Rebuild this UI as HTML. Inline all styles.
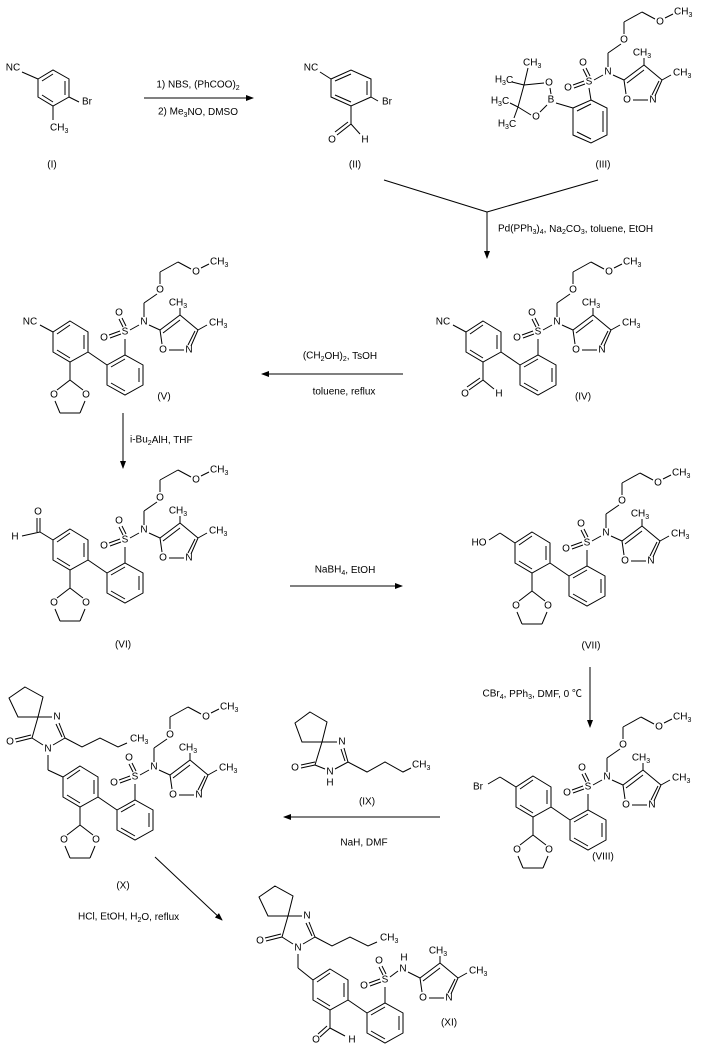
<!DOCTYPE html>
<html><head><meta charset="utf-8"><style>
html,body{margin:0;padding:0;background:#fff;}
svg{display:block;}
text{font-family:"Liberation Sans","Noto Sans CJK SC",sans-serif;font-size:10px;fill:#000;dominant-baseline:central;}
.m{text-anchor:middle;}
.e{text-anchor:end;}
line,polygon,polyline{stroke:#000;stroke-width:1;fill:none;}
</style></head><body>
<svg width="706" height="1051" viewBox="0 0 706 1051" xmlns="http://www.w3.org/2000/svg">
<defs><marker id="ah" markerWidth="8" markerHeight="6" refX="7" refY="3" orient="auto" markerUnits="userSpaceOnUse"><polygon points="0,0 8,3 0,6" style="fill:#000;stroke:none"/></marker></defs>

<!-- (I) -->
<polygon points="38,79 53,70 69,79 69,97 53,106 38,97"/>
<line x1="42" y1="81" x2="53" y2="74"/><line x1="65" y1="81" x2="65" y2="95"/><line x1="53" y1="102" x2="42" y2="95"/>
<line x1="22" y1="72" x2="38" y2="79"/><text x="13" y="68" class="m">NC</text>
<line x1="69" y1="97" x2="79" y2="102"/><text x="87" y="102" class="m">Br</text>
<line x1="53" y1="106" x2="53" y2="120"/><text x="50" y="128">CH<tspan font-size="7" dy="3">3</tspan></text>
<text x="52" y="165" class="m">(I)</text>

<line x1="144" y1="98" x2="253" y2="98" marker-end="url(#ah)"/>
<text x="198" y="85" class="m">1) NBS, (PhCOO)<tspan font-size="7" dy="3">2</tspan></text>
<text x="198" y="112" class="m">2) Me<tspan font-size="7" dy="3">3</tspan><tspan dy="-3">NO, DMSO</tspan></text>

<!-- (II) -->
<polygon points="331,79 351,70 371,79 371,97 351,106 331,97"/>
<line x1="335" y1="81" x2="351" y2="74"/><line x1="367" y1="81" x2="367" y2="95"/><line x1="351" y1="102" x2="335" y2="95"/>
<line x1="320" y1="72" x2="331" y2="79"/><text x="311" y="68" class="m">NC</text>
<line x1="371" y1="97" x2="378" y2="101"/><text x="387" y="102" class="m">Br</text>
<line x1="351" y1="106" x2="351" y2="124"/>
<line x1="351" y1="124" x2="337" y2="135"/><line x1="348" y1="122" x2="335" y2="132"/>
<text x="332" y="140" class="m">O</text>
<line x1="351" y1="124" x2="360" y2="134"/><text x="365" y="140" class="m">H</text>
<text x="355" y="165" class="m">(II)</text>

<!-- (III) -->
<polygon points="591,100 607,108 607,135 591,143 573,135 573,108"/>
<line x1="603" y1="111" x2="603" y2="132"/><line x1="591" y1="139" x2="577" y2="132"/><line x1="577" y1="111" x2="591" y2="104"/>
<line x1="589" y1="88" x2="591" y2="100"/>
<text x="551" y="100" class="m">B</text>
<line x1="556" y1="103" x2="573" y2="108"/>
<text x="549" y="83" class="m">O</text><line x1="551" y1="94" x2="550" y2="88"/>
<text x="536" y="117" class="m">O</text><line x1="547" y1="105" x2="540" y2="112"/>
<line x1="544" y1="83" x2="524" y2="85"/>
<line x1="531" y1="115" x2="518" y2="107"/>
<line x1="524" y1="85" x2="518" y2="107"/>
<line x1="524" y1="85" x2="528" y2="68"/><text x="523" y="63">CH<tspan font-size="7" dy="3">3</tspan></text>
<line x1="524" y1="85" x2="512" y2="82"/><text x="504" y="80" class="m">H<tspan font-size="7" dy="3">3</tspan><tspan dy="-3">C</tspan></text>
<line x1="518" y1="107" x2="510" y2="103"/><text x="500" y="101" class="m">H<tspan font-size="7" dy="3">3</tspan><tspan dy="-3">C</tspan></text>
<line x1="518" y1="107" x2="514" y2="118"/><text x="507" y="124" class="m">H<tspan font-size="7" dy="3">3</tspan><tspan dy="-3">C</tspan></text>
<g transform="translate(589,82)">
<text x="0" y="0" class="m">S</text>
<text x="-6" y="-19" class="m">O</text><line x1="-6" y1="-13" x2="-2" y2="-5"/><line x1="-3" y1="-14" x2="1" y2="-6"/>
<text x="-21" y="6" class="m">O</text><line x1="-16" y1="3" x2="-5" y2="-1"/><line x1="-15" y1="6" x2="-4" y2="2"/>
<line x1="5" y1="-2" x2="14" y2="-7"/><text x="19" y="-10" class="m">N</text>
<line x1="19" y1="-15" x2="19" y2="-29"/><line x1="19" y1="-29" x2="32" y2="-38"/><text x="35" y="-42" class="m">O</text>
<line x1="35" y1="-48" x2="35" y2="-60"/><line x1="35" y1="-60" x2="53" y2="-70"/><line x1="53" y1="-70" x2="66" y2="-63"/>
<text x="71" y="-60" class="m">O</text><line x1="76" y1="-64" x2="84" y2="-68"/><text x="85" y="-70">CH<tspan font-size="7" dy="3">3</tspan></text>
<line x1="24" y1="-7" x2="35" y2="-2"/>
<line x1="35" y1="-2" x2="55" y2="-17"/><line x1="38" y1="1" x2="55" y2="-12"/>
<line x1="55" y1="-17" x2="73" y2="-2"/>
<line x1="73" y1="-2" x2="66" y2="14"/><line x1="70" y1="-1" x2="63" y2="13"/>
<text x="64" y="18" class="m">N</text><line x1="44" y1="18" x2="59" y2="18"/><text x="38" y="18" class="m">O</text>
<line x1="37" y1="12" x2="35" y2="-2"/>
<line x1="55" y1="-17" x2="55" y2="-24"/><text x="53" y="-29" class="m">CH<tspan font-size="7" dy="3">3</tspan></text>
<line x1="73" y1="-2" x2="82" y2="-7"/><text x="84" y="-9">CH<tspan font-size="7" dy="3">3</tspan></text>
</g>
<text x="603" y="165" class="m">(III)</text>

<line x1="384" y1="180" x2="487" y2="212"/><line x1="598" y1="180" x2="487" y2="212"/>
<line x1="487" y1="212" x2="487" y2="258" marker-end="url(#ah)"/>
<text x="498" y="229">Pd(PPh<tspan font-size="7" dy="3">3</tspan><tspan dy="-3">)</tspan><tspan font-size="7" dy="3">4</tspan><tspan dy="-3">, Na</tspan><tspan font-size="7" dy="3">2</tspan><tspan dy="-3">CO</tspan><tspan font-size="7" dy="3">3</tspan><tspan dy="-3">, toluene, EtOH</tspan></text>

<!-- (IV) -->
<g transform="translate(538,332)">
<polygon points="-55,-11 -37,0 -37,20 -55,30 -72,20 -72,0"/>
<line x1="-68" y1="2" x2="-55" y2="-7"/><line x1="-41" y1="3" x2="-41" y2="17"/><line x1="-55" y1="26" x2="-68" y2="18"/>
<line x1="-37" y1="20" x2="-18" y2="33"/>
<polygon points="-18,33 0,23 18,33 18,53 0,63 -18,53"/>
<line x1="14" y1="36" x2="14" y2="50"/><line x1="0" y1="59" x2="-14" y2="51"/><line x1="-14" y1="35" x2="0" y2="27"/>
<line x1="0" y1="7" x2="0" y2="23"/>
<text x="0" y="0" class="m">S</text>
<text x="-6" y="-19" class="m">O</text><line x1="-6" y1="-13" x2="-2" y2="-5"/><line x1="-3" y1="-14" x2="1" y2="-6"/>
<text x="-21" y="6" class="m">O</text><line x1="-16" y1="3" x2="-5" y2="-1"/><line x1="-15" y1="6" x2="-4" y2="2"/>
<line x1="5" y1="-2" x2="14" y2="-7"/><text x="19" y="-10" class="m">N</text>
<line x1="19" y1="-15" x2="19" y2="-29"/><line x1="19" y1="-29" x2="32" y2="-38"/><text x="35" y="-42" class="m">O</text>
<line x1="35" y1="-48" x2="35" y2="-60"/><line x1="35" y1="-60" x2="53" y2="-70"/><line x1="53" y1="-70" x2="66" y2="-63"/>
<text x="71" y="-60" class="m">O</text><line x1="76" y1="-64" x2="84" y2="-68"/><text x="85" y="-70">CH<tspan font-size="7" dy="3">3</tspan></text>
<line x1="24" y1="-7" x2="35" y2="-2"/>
<line x1="35" y1="-2" x2="55" y2="-17"/><line x1="38" y1="1" x2="55" y2="-12"/>
<line x1="55" y1="-17" x2="73" y2="-2"/>
<line x1="73" y1="-2" x2="66" y2="14"/><line x1="70" y1="-1" x2="63" y2="13"/>
<text x="64" y="18" class="m">N</text><line x1="44" y1="18" x2="59" y2="18"/><text x="38" y="18" class="m">O</text>
<line x1="37" y1="12" x2="35" y2="-2"/>
<line x1="55" y1="-17" x2="55" y2="-24"/><text x="53" y="-29" class="m">CH<tspan font-size="7" dy="3">3</tspan></text>
<line x1="73" y1="-2" x2="82" y2="-7"/><text x="84" y="-9">CH<tspan font-size="7" dy="3">3</tspan></text>
<line x1="-72" y1="0" x2="-85" y2="-7"/><text x="-95" y="-10" class="m">NC</text>
<line x1="-55" y1="30" x2="-55" y2="48"/>
<line x1="-55" y1="48" x2="-69" y2="58"/><line x1="-58" y1="46" x2="-71" y2="55"/>
<text x="-73" y="62" class="m">O</text>
<line x1="-55" y1="48" x2="-44" y2="57"/><text x="-39" y="62" class="m">H</text>
</g>
<text x="583" y="397" class="m">(IV)</text>

<line x1="403" y1="374" x2="262" y2="374" marker-end="url(#ah)"/>
<text x="340" y="356" class="m">(CH<tspan font-size="7" dy="3">2</tspan><tspan dy="-3">OH)</tspan><tspan font-size="7" dy="3">2</tspan><tspan dy="-3">, TsOH</tspan></text>
<text x="344" y="392" class="m">toluene, reflux</text>

<!-- (V) -->
<g transform="translate(125,332)">
<polygon points="-55,-11 -37,0 -37,20 -55,30 -72,20 -72,0"/>
<line x1="-68" y1="2" x2="-55" y2="-7"/><line x1="-41" y1="3" x2="-41" y2="17"/><line x1="-55" y1="26" x2="-68" y2="18"/>
<line x1="-37" y1="20" x2="-18" y2="33"/>
<polygon points="-18,33 0,23 18,33 18,53 0,63 -18,53"/>
<line x1="14" y1="36" x2="14" y2="50"/><line x1="0" y1="59" x2="-14" y2="51"/><line x1="-14" y1="35" x2="0" y2="27"/>
<line x1="0" y1="7" x2="0" y2="23"/>
<text x="0" y="0" class="m">S</text>
<text x="-6" y="-19" class="m">O</text><line x1="-6" y1="-13" x2="-2" y2="-5"/><line x1="-3" y1="-14" x2="1" y2="-6"/>
<text x="-21" y="6" class="m">O</text><line x1="-16" y1="3" x2="-5" y2="-1"/><line x1="-15" y1="6" x2="-4" y2="2"/>
<line x1="5" y1="-2" x2="14" y2="-7"/><text x="19" y="-10" class="m">N</text>
<line x1="19" y1="-15" x2="19" y2="-29"/><line x1="19" y1="-29" x2="32" y2="-38"/><text x="35" y="-42" class="m">O</text>
<line x1="35" y1="-48" x2="35" y2="-60"/><line x1="35" y1="-60" x2="53" y2="-70"/><line x1="53" y1="-70" x2="66" y2="-63"/>
<text x="71" y="-60" class="m">O</text><line x1="76" y1="-64" x2="84" y2="-68"/><text x="85" y="-70">CH<tspan font-size="7" dy="3">3</tspan></text>
<line x1="24" y1="-7" x2="35" y2="-2"/>
<line x1="35" y1="-2" x2="55" y2="-17"/><line x1="38" y1="1" x2="55" y2="-12"/>
<line x1="55" y1="-17" x2="73" y2="-2"/>
<line x1="73" y1="-2" x2="66" y2="14"/><line x1="70" y1="-1" x2="63" y2="13"/>
<text x="64" y="18" class="m">N</text><line x1="44" y1="18" x2="59" y2="18"/><text x="38" y="18" class="m">O</text>
<line x1="37" y1="12" x2="35" y2="-2"/>
<line x1="55" y1="-17" x2="55" y2="-24"/><text x="53" y="-29" class="m">CH<tspan font-size="7" dy="3">3</tspan></text>
<line x1="73" y1="-2" x2="82" y2="-7"/><text x="84" y="-9">CH<tspan font-size="7" dy="3">3</tspan></text>
<line x1="-72" y1="0" x2="-85" y2="-7"/><text x="-95" y="-10" class="m">NC</text>
<line x1="-55" y1="30" x2="-55" y2="48"/><line x1="-55" y1="48" x2="-68" y2="58"/><line x1="-55" y1="48" x2="-42" y2="58"/>
<text x="-71" y="63" class="m">O</text><text x="-39" y="63" class="m">O</text>
<line x1="-70" y1="69" x2="-65" y2="81"/><line x1="-65" y1="81" x2="-45" y2="81"/><line x1="-45" y1="81" x2="-40" y2="69"/>
</g>
<text x="164" y="397" class="m">(V)</text>

<line x1="123" y1="413" x2="123" y2="468" marker-end="url(#ah)"/>
<text x="130" y="440">i-Bu<tspan font-size="7" dy="3">2</tspan><tspan dy="-3">AlH, THF</tspan></text>

<!-- (VI) -->
<g transform="translate(125,540)">
<polygon points="-55,-11 -37,0 -37,20 -55,30 -72,20 -72,0"/>
<line x1="-68" y1="2" x2="-55" y2="-7"/><line x1="-41" y1="3" x2="-41" y2="17"/><line x1="-55" y1="26" x2="-68" y2="18"/>
<line x1="-37" y1="20" x2="-18" y2="33"/>
<polygon points="-18,33 0,23 18,33 18,53 0,63 -18,53"/>
<line x1="14" y1="36" x2="14" y2="50"/><line x1="0" y1="59" x2="-14" y2="51"/><line x1="-14" y1="35" x2="0" y2="27"/>
<line x1="0" y1="7" x2="0" y2="23"/>
<text x="0" y="0" class="m">S</text>
<text x="-6" y="-19" class="m">O</text><line x1="-6" y1="-13" x2="-2" y2="-5"/><line x1="-3" y1="-14" x2="1" y2="-6"/>
<text x="-21" y="6" class="m">O</text><line x1="-16" y1="3" x2="-5" y2="-1"/><line x1="-15" y1="6" x2="-4" y2="2"/>
<line x1="5" y1="-2" x2="14" y2="-7"/><text x="19" y="-10" class="m">N</text>
<line x1="19" y1="-15" x2="19" y2="-29"/><line x1="19" y1="-29" x2="32" y2="-38"/><text x="35" y="-42" class="m">O</text>
<line x1="35" y1="-48" x2="35" y2="-60"/><line x1="35" y1="-60" x2="53" y2="-70"/><line x1="53" y1="-70" x2="66" y2="-63"/>
<text x="71" y="-60" class="m">O</text><line x1="76" y1="-64" x2="84" y2="-68"/><text x="85" y="-70">CH<tspan font-size="7" dy="3">3</tspan></text>
<line x1="24" y1="-7" x2="35" y2="-2"/>
<line x1="35" y1="-2" x2="55" y2="-17"/><line x1="38" y1="1" x2="55" y2="-12"/>
<line x1="55" y1="-17" x2="73" y2="-2"/>
<line x1="73" y1="-2" x2="66" y2="14"/><line x1="70" y1="-1" x2="63" y2="13"/>
<text x="64" y="18" class="m">N</text><line x1="44" y1="18" x2="59" y2="18"/><text x="38" y="18" class="m">O</text>
<line x1="37" y1="12" x2="35" y2="-2"/>
<line x1="55" y1="-17" x2="55" y2="-24"/><text x="53" y="-29" class="m">CH<tspan font-size="7" dy="3">3</tspan></text>
<line x1="73" y1="-2" x2="82" y2="-7"/><text x="84" y="-9">CH<tspan font-size="7" dy="3">3</tspan></text>
<line x1="-72" y1="0" x2="-85" y2="-8"/>
<line x1="-85" y1="-8" x2="-85" y2="-22"/><line x1="-88" y1="-8" x2="-88" y2="-22"/>
<text x="-87" y="-28" class="m">O</text>
<line x1="-85" y1="-8" x2="-103" y2="-4"/><text x="-110" y="-3" class="m">H</text>
<line x1="-55" y1="30" x2="-55" y2="48"/><line x1="-55" y1="48" x2="-68" y2="58"/><line x1="-55" y1="48" x2="-42" y2="58"/>
<text x="-71" y="63" class="m">O</text><text x="-39" y="63" class="m">O</text>
<line x1="-70" y1="69" x2="-65" y2="81"/><line x1="-65" y1="81" x2="-45" y2="81"/><line x1="-45" y1="81" x2="-40" y2="69"/>
</g>
<text x="123" y="645" class="m">(VI)</text>

<line x1="290" y1="586" x2="402" y2="586" marker-end="url(#ah)"/>
<text x="345" y="570" class="m">NaBH<tspan font-size="7" dy="3">4</tspan><tspan dy="-3">, EtOH</tspan></text>

<!-- (VII) -->
<g transform="translate(587,543)">
<polygon points="-55,-11 -37,0 -37,20 -55,30 -72,20 -72,0"/>
<line x1="-68" y1="2" x2="-55" y2="-7"/><line x1="-41" y1="3" x2="-41" y2="17"/><line x1="-55" y1="26" x2="-68" y2="18"/>
<line x1="-37" y1="20" x2="-18" y2="33"/>
<polygon points="-18,33 0,23 18,33 18,53 0,63 -18,53"/>
<line x1="14" y1="36" x2="14" y2="50"/><line x1="0" y1="59" x2="-14" y2="51"/><line x1="-14" y1="35" x2="0" y2="27"/>
<line x1="0" y1="7" x2="0" y2="23"/>
<text x="0" y="0" class="m">S</text>
<text x="-6" y="-19" class="m">O</text><line x1="-6" y1="-13" x2="-2" y2="-5"/><line x1="-3" y1="-14" x2="1" y2="-6"/>
<text x="-21" y="6" class="m">O</text><line x1="-16" y1="3" x2="-5" y2="-1"/><line x1="-15" y1="6" x2="-4" y2="2"/>
<line x1="5" y1="-2" x2="14" y2="-7"/><text x="19" y="-10" class="m">N</text>
<line x1="19" y1="-15" x2="19" y2="-29"/><line x1="19" y1="-29" x2="32" y2="-38"/><text x="35" y="-42" class="m">O</text>
<line x1="35" y1="-48" x2="35" y2="-60"/><line x1="35" y1="-60" x2="53" y2="-70"/><line x1="53" y1="-70" x2="66" y2="-63"/>
<text x="71" y="-60" class="m">O</text><line x1="76" y1="-64" x2="84" y2="-68"/><text x="85" y="-70">CH<tspan font-size="7" dy="3">3</tspan></text>
<line x1="24" y1="-7" x2="35" y2="-2"/>
<line x1="35" y1="-2" x2="55" y2="-17"/><line x1="38" y1="1" x2="55" y2="-12"/>
<line x1="55" y1="-17" x2="73" y2="-2"/>
<line x1="73" y1="-2" x2="66" y2="14"/><line x1="70" y1="-1" x2="63" y2="13"/>
<text x="64" y="18" class="m">N</text><line x1="44" y1="18" x2="59" y2="18"/><text x="38" y="18" class="m">O</text>
<line x1="37" y1="12" x2="35" y2="-2"/>
<line x1="55" y1="-17" x2="55" y2="-24"/><text x="53" y="-29" class="m">CH<tspan font-size="7" dy="3">3</tspan></text>
<line x1="73" y1="-2" x2="82" y2="-7"/><text x="84" y="-9">CH<tspan font-size="7" dy="3">3</tspan></text>
<line x1="-72" y1="0" x2="-87" y2="-10"/><line x1="-87" y1="-10" x2="-98" y2="-3"/><text x="-108" y="0" class="m">HO</text>
<line x1="-55" y1="30" x2="-55" y2="48"/><line x1="-55" y1="48" x2="-68" y2="58"/><line x1="-55" y1="48" x2="-42" y2="58"/>
<text x="-71" y="63" class="m">O</text><text x="-39" y="63" class="m">O</text>
<line x1="-70" y1="69" x2="-65" y2="81"/><line x1="-65" y1="81" x2="-45" y2="81"/><line x1="-45" y1="81" x2="-40" y2="69"/>
</g>
<text x="591" y="646" class="m">(VII)</text>

<line x1="590" y1="667" x2="590" y2="727" marker-end="url(#ah)"/>
<text x="582" y="694" class="e">CBr<tspan font-size="7" dy="3">4</tspan><tspan dy="-3">, PPh</tspan><tspan font-size="7" dy="3">3</tspan><tspan dy="-3">, DMF, 0 ℃</tspan></text>

<!-- (VIII) -->
<g transform="translate(588,787)">
<polygon points="-55,-11 -37,0 -37,20 -55,30 -72,20 -72,0"/>
<line x1="-68" y1="2" x2="-55" y2="-7"/><line x1="-41" y1="3" x2="-41" y2="17"/><line x1="-55" y1="26" x2="-68" y2="18"/>
<line x1="-37" y1="20" x2="-18" y2="33"/>
<polygon points="-18,33 0,23 18,33 18,53 0,63 -18,53"/>
<line x1="14" y1="36" x2="14" y2="50"/><line x1="0" y1="59" x2="-14" y2="51"/><line x1="-14" y1="35" x2="0" y2="27"/>
<line x1="0" y1="7" x2="0" y2="23"/>
<text x="0" y="0" class="m">S</text>
<text x="-6" y="-19" class="m">O</text><line x1="-6" y1="-13" x2="-2" y2="-5"/><line x1="-3" y1="-14" x2="1" y2="-6"/>
<text x="-21" y="6" class="m">O</text><line x1="-16" y1="3" x2="-5" y2="-1"/><line x1="-15" y1="6" x2="-4" y2="2"/>
<line x1="5" y1="-2" x2="14" y2="-7"/><text x="19" y="-10" class="m">N</text>
<line x1="19" y1="-15" x2="19" y2="-29"/><line x1="19" y1="-29" x2="32" y2="-38"/><text x="35" y="-42" class="m">O</text>
<line x1="35" y1="-48" x2="35" y2="-60"/><line x1="35" y1="-60" x2="53" y2="-70"/><line x1="53" y1="-70" x2="66" y2="-63"/>
<text x="71" y="-60" class="m">O</text><line x1="76" y1="-64" x2="84" y2="-68"/><text x="85" y="-70">CH<tspan font-size="7" dy="3">3</tspan></text>
<line x1="24" y1="-7" x2="35" y2="-2"/>
<line x1="35" y1="-2" x2="55" y2="-17"/><line x1="38" y1="1" x2="55" y2="-12"/>
<line x1="55" y1="-17" x2="73" y2="-2"/>
<line x1="73" y1="-2" x2="66" y2="14"/><line x1="70" y1="-1" x2="63" y2="13"/>
<text x="64" y="18" class="m">N</text><line x1="44" y1="18" x2="59" y2="18"/><text x="38" y="18" class="m">O</text>
<line x1="37" y1="12" x2="35" y2="-2"/>
<line x1="55" y1="-17" x2="55" y2="-24"/><text x="53" y="-29" class="m">CH<tspan font-size="7" dy="3">3</tspan></text>
<line x1="73" y1="-2" x2="82" y2="-7"/><text x="84" y="-9">CH<tspan font-size="7" dy="3">3</tspan></text>
<line x1="-72" y1="0" x2="-88" y2="-10"/><line x1="-88" y1="-10" x2="-100" y2="-3"/><text x="-110" y="0" class="m">Br</text>
<line x1="-55" y1="30" x2="-55" y2="48"/><line x1="-55" y1="48" x2="-68" y2="58"/><line x1="-55" y1="48" x2="-42" y2="58"/>
<text x="-71" y="63" class="m">O</text><text x="-39" y="63" class="m">O</text>
<line x1="-70" y1="69" x2="-65" y2="81"/><line x1="-65" y1="81" x2="-45" y2="81"/><line x1="-45" y1="81" x2="-40" y2="69"/>
</g>
<text x="603" y="857" class="m">(VIII)</text>

<!-- (IX) -->
<polygon points="310,712 327,722 322,742 302,742 295,723"/>
<line x1="322" y1="742" x2="337" y2="742"/><text x="342" y="742" class="m">N</text>
<line x1="344" y1="748" x2="348" y2="762"/><line x1="341" y1="749" x2="345" y2="761"/>
<line x1="348" y1="762" x2="335" y2="769"/><text x="330" y="772" class="m">N</text><text x="330" y="783" class="m">H</text>
<line x1="325" y1="769" x2="315" y2="765"/><line x1="315" y1="765" x2="322" y2="742"/>
<line x1="315" y1="765" x2="301" y2="768"/><line x1="315" y1="762" x2="301" y2="765"/><text x="295" y="768" class="m">O</text>
<polyline points="348,762 367,772 385,762 403,772 411,768"/>
<text x="412" y="765">CH<tspan font-size="7" dy="3">3</tspan></text>
<text x="367" y="802" class="m">(IX)</text>

<line x1="440" y1="817" x2="284" y2="817" marker-end="url(#ah)"/>
<text x="364" y="843" class="m">NaH, DMF</text>

<!-- (X) -->
<polygon points="25,687 43,697 38,717 18,717 9,698"/>
<line x1="38" y1="717" x2="52" y2="717"/><text x="57" y="717" class="m">N</text>
<line x1="59" y1="723" x2="65" y2="738"/><line x1="56" y1="724" x2="62" y2="737"/>
<line x1="65" y1="738" x2="53" y2="745"/><text x="48" y="749" class="m">N</text>
<line x1="43" y1="745" x2="32" y2="738"/><line x1="32" y1="738" x2="38" y2="717"/>
<line x1="32" y1="738" x2="16" y2="742"/><line x1="31" y1="735" x2="15" y2="739"/><text x="10" y="742" class="m">O</text>
<polyline points="65,738 82,747 100,738 118,747 127,743"/>
<text x="130" y="739">CH<tspan font-size="7" dy="3">3</tspan></text>
<line x1="48" y1="755" x2="48" y2="770"/>
<g transform="translate(135,777)">
<polygon points="-55,-11 -37,0 -37,20 -55,30 -72,20 -72,0"/>
<line x1="-68" y1="2" x2="-55" y2="-7"/><line x1="-41" y1="3" x2="-41" y2="17"/><line x1="-55" y1="26" x2="-68" y2="18"/>
<line x1="-37" y1="20" x2="-18" y2="33"/>
<polygon points="-18,33 0,23 18,33 18,53 0,63 -18,53"/>
<line x1="14" y1="36" x2="14" y2="50"/><line x1="0" y1="59" x2="-14" y2="51"/><line x1="-14" y1="35" x2="0" y2="27"/>
<line x1="0" y1="7" x2="0" y2="23"/>
<text x="0" y="0" class="m">S</text>
<text x="-6" y="-19" class="m">O</text><line x1="-6" y1="-13" x2="-2" y2="-5"/><line x1="-3" y1="-14" x2="1" y2="-6"/>
<text x="-21" y="6" class="m">O</text><line x1="-16" y1="3" x2="-5" y2="-1"/><line x1="-15" y1="6" x2="-4" y2="2"/>
<line x1="5" y1="-2" x2="14" y2="-7"/><text x="19" y="-10" class="m">N</text>
<line x1="19" y1="-15" x2="19" y2="-29"/><line x1="19" y1="-29" x2="32" y2="-38"/><text x="35" y="-42" class="m">O</text>
<line x1="35" y1="-48" x2="35" y2="-60"/><line x1="35" y1="-60" x2="53" y2="-70"/><line x1="53" y1="-70" x2="66" y2="-63"/>
<text x="71" y="-60" class="m">O</text><line x1="76" y1="-64" x2="84" y2="-68"/><text x="85" y="-70">CH<tspan font-size="7" dy="3">3</tspan></text>
<line x1="24" y1="-7" x2="35" y2="-2"/>
<line x1="35" y1="-2" x2="55" y2="-17"/><line x1="38" y1="1" x2="55" y2="-12"/>
<line x1="55" y1="-17" x2="73" y2="-2"/>
<line x1="73" y1="-2" x2="66" y2="14"/><line x1="70" y1="-1" x2="63" y2="13"/>
<text x="64" y="18" class="m">N</text><line x1="44" y1="18" x2="59" y2="18"/><text x="38" y="18" class="m">O</text>
<line x1="37" y1="12" x2="35" y2="-2"/>
<line x1="55" y1="-17" x2="55" y2="-24"/><text x="53" y="-29" class="m">CH<tspan font-size="7" dy="3">3</tspan></text>
<line x1="73" y1="-2" x2="82" y2="-7"/><text x="84" y="-9">CH<tspan font-size="7" dy="3">3</tspan></text>
<line x1="-72" y1="0" x2="-87" y2="-7"/>
<line x1="-55" y1="30" x2="-55" y2="48"/><line x1="-55" y1="48" x2="-68" y2="58"/><line x1="-55" y1="48" x2="-42" y2="58"/>
<text x="-71" y="63" class="m">O</text><text x="-39" y="63" class="m">O</text>
<line x1="-70" y1="69" x2="-65" y2="81"/><line x1="-65" y1="81" x2="-45" y2="81"/><line x1="-45" y1="81" x2="-40" y2="69"/>
</g>
<text x="123" y="886" class="m">(X)</text>

<line x1="155" y1="857" x2="222" y2="920" marker-end="url(#ah)"/>
<text x="78" y="917">HCl, EtOH, H<tspan font-size="7" dy="3">2</tspan><tspan dy="-3">O, reflux</tspan></text>

<!-- (XI) -->
<polygon points="275,886 293,896 288,916 268,916 259,897"/>
<line x1="288" y1="916" x2="302" y2="916"/><text x="307" y="916" class="m">N</text>
<line x1="309" y1="922" x2="315" y2="937"/><line x1="306" y1="923" x2="312" y2="936"/>
<line x1="315" y1="937" x2="303" y2="944"/><text x="298" y="948" class="m">N</text>
<line x1="293" y1="944" x2="282" y2="937"/><line x1="282" y1="937" x2="288" y2="916"/>
<line x1="282" y1="937" x2="266" y2="941"/><line x1="281" y1="934" x2="265" y2="938"/><text x="260" y="941" class="m">O</text>
<polyline points="315,937 332,946 350,937 368,946 377,942"/>
<text x="380" y="938">CH<tspan font-size="7" dy="3">3</tspan></text>
<line x1="298" y1="954" x2="298" y2="968"/>
<g transform="translate(385,980)">
<polygon points="-55,-11 -37,0 -37,20 -55,30 -72,20 -72,0"/>
<line x1="-68" y1="2" x2="-55" y2="-7"/><line x1="-41" y1="3" x2="-41" y2="17"/><line x1="-55" y1="26" x2="-68" y2="18"/>
<line x1="-37" y1="20" x2="-18" y2="33"/>
<polygon points="-18,33 0,23 18,33 18,53 0,63 -18,53"/>
<line x1="14" y1="36" x2="14" y2="50"/><line x1="0" y1="59" x2="-14" y2="51"/><line x1="-14" y1="35" x2="0" y2="27"/>
<line x1="0" y1="7" x2="0" y2="23"/>
<text x="0" y="0" class="m">S</text>
<text x="-6" y="-19" class="m">O</text><line x1="-6" y1="-13" x2="-2" y2="-5"/><line x1="-3" y1="-14" x2="1" y2="-6"/>
<text x="-21" y="6" class="m">O</text><line x1="-16" y1="3" x2="-5" y2="-1"/><line x1="-15" y1="6" x2="-4" y2="2"/>
<line x1="5" y1="-3" x2="13" y2="-9"/><text x="18" y="-11" class="m">N</text><text x="19" y="-22" class="m">H</text>
<line x1="23" y1="-8" x2="35" y2="-2"/>
<line x1="35" y1="-2" x2="55" y2="-17"/><line x1="38" y1="1" x2="55" y2="-12"/>
<line x1="55" y1="-17" x2="73" y2="-2"/>
<line x1="73" y1="-2" x2="66" y2="14"/><line x1="70" y1="-1" x2="63" y2="13"/>
<text x="64" y="18" class="m">N</text><line x1="44" y1="18" x2="59" y2="18"/><text x="38" y="18" class="m">O</text>
<line x1="37" y1="12" x2="35" y2="-2"/>
<line x1="55" y1="-17" x2="55" y2="-24"/><text x="53" y="-29" class="m">CH<tspan font-size="7" dy="3">3</tspan></text>
<line x1="73" y1="-2" x2="82" y2="-7"/><text x="84" y="-9">CH<tspan font-size="7" dy="3">3</tspan></text>
<line x1="-72" y1="0" x2="-87" y2="-12"/>
<line x1="-55" y1="30" x2="-55" y2="48"/>
<line x1="-55" y1="48" x2="-65" y2="57"/><line x1="-58" y1="46" x2="-67" y2="54"/>
<text x="-69" y="60" class="m">O</text>
<line x1="-55" y1="48" x2="-40" y2="56"/><text x="-33" y="60" class="m">H</text>
</g>
<text x="449" y="1023" class="m">(XI)</text>
</svg>
</body></html>
